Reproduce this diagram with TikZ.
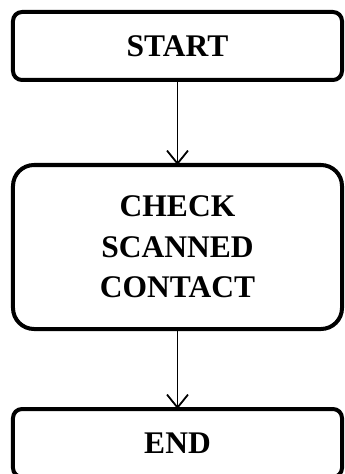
\documentclass[tikz,border=0pt]{standalone}
\usepackage{fontspec}
\setmainfont{Liberation Serif}
\usetikzlibrary{positioning, arrows.meta}
\tikzset{
>={Straight Barb[length=13bp, width=21bp]}, % open v-shaped arrow heads
node distance=85bp, % gap between two boxes. Change if necessary.
every node/.style={font=\bfseries\fontsize{31.5bp}{40.5bp}\selectfont, align=center},
flowbox/.style={draw, line width=4bp, rounded corners=9bp, outer sep=0pt,
  minimum width=329bp, minimum height=68bp, inner sep=0pt}, % the boxes of the chart
flowarrow/.style={->, line width=1.8bp}, % the arrows between boxes
}

\begin{document}
\begin{tikzpicture}[x=1bp, y=1bp]
    \useasboundingbox (0,0) rectangle (344,-474);
    \node[flowbox] (start) at (177.5,-46) {START};
    \node[flowbox, below=of start, minimum height=164bp, rounded corners=21bp] (check) {CHECK\\SCANNED\\CONTACT};
    \node[flowbox, below=80bp of check] (end) {END};
    \draw[flowarrow] (start) -- (check);
    \draw[flowarrow] (check) -- (end);
  \end{tikzpicture}
\end{document}
